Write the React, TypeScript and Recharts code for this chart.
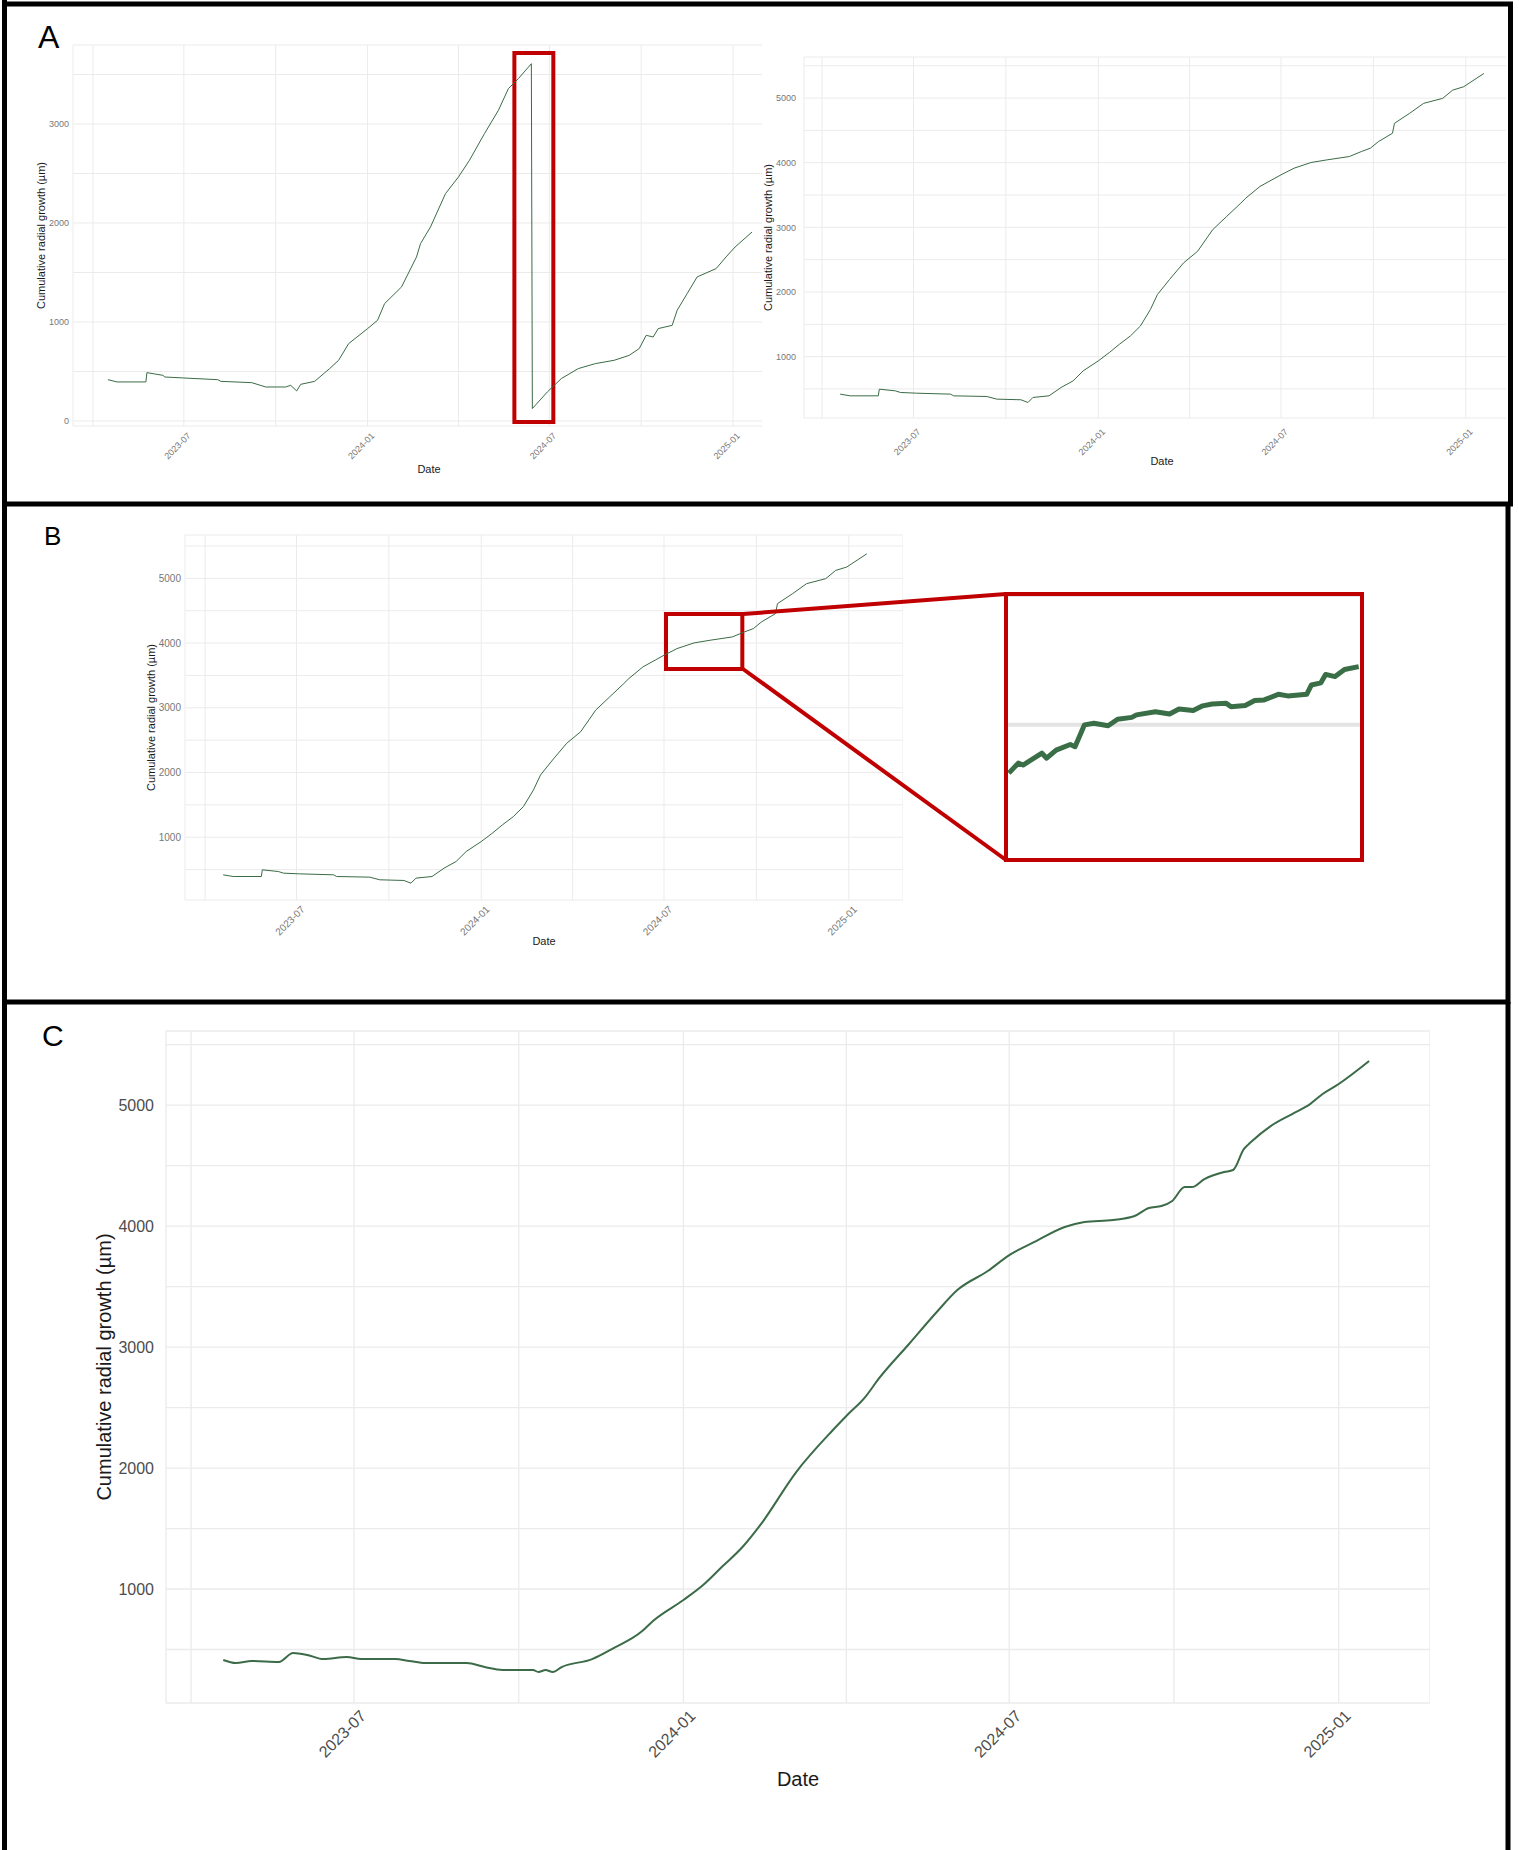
import React from 'react';
import { LineChart, Line, XAxis, YAxis, CartesianGrid, Label, ReferenceArea } from 'recharts';

const FONT = '"Liberation Sans", Arial, Helvetica, sans-serif';
const GREEN = '#3b6b47';
const RED = '#c00000';
const GRID = '#ebebeb';
const DAY = 86400000;

// Panel A, left: raw series with the sensor reset
const aLeftDates = ['2023-04-16', '2023-04-25', '2023-05-24', '2023-05-25', '2023-06-10', '2023-06-12', '2023-07-01', '2023-08-04', '2023-08-07', '2023-09-07', '2023-09-21', '2023-10-11', '2023-10-16', '2023-10-22', '2023-10-26', '2023-11-09', '2023-11-24', '2023-12-03', '2023-12-13', '2024-01-01', '2024-01-11', '2024-01-18', '2024-02-04', '2024-02-19', '2024-02-23', '2024-03-04', '2024-03-19', '2024-04-01', '2024-04-12', '2024-04-27', '2024-05-11', '2024-05-21', '2024-05-31', '2024-06-13', '2024-06-14', '2024-06-29', '2024-07-13', '2024-07-30', '2024-08-16', '2024-09-04', '2024-09-19', '2024-09-29', '2024-10-06', '2024-10-13', '2024-10-18', '2024-11-01', '2024-11-06', '2024-11-16', '2024-11-26', '2024-12-15', '2024-12-25', '2025-01-03', '2025-01-20'];
const aLeftValues = [417, 394, 394, 488, 461, 444, 434, 417, 400, 387, 343, 343, 360, 303, 370, 400, 529, 613, 781, 933, 1017, 1185, 1354, 1657, 1791, 1960, 2296, 2465, 2633, 2902, 3138, 3357, 3458, 3609, 125, 293, 428, 529, 579, 613, 663, 731, 865, 848, 933, 966, 1118, 1286, 1455, 1539, 1657, 1757, 1909];

// Panel A right and panel B: corrected raw series
const rawDates = ['2023-04-19', '2023-04-29', '2023-05-27', '2023-05-28', '2023-06-13', '2023-06-18', '2023-07-04', '2023-08-07', '2023-08-10', '2023-09-12', '2023-09-22', '2023-10-16', '2023-10-23', '2023-10-28', '2023-11-13', '2023-11-25', '2023-12-07', '2023-12-17', '2024-01-01', '2024-01-12', '2024-01-22', '2024-02-02', '2024-02-12', '2024-02-22', '2024-02-29', '2024-03-12', '2024-03-26', '2024-04-09', '2024-04-24', '2024-05-08', '2024-05-22', '2024-05-27', '2024-06-10', '2024-07-01', '2024-07-14', '2024-07-31', '2024-08-16', '2024-09-07', '2024-09-19', '2024-09-28', '2024-10-06', '2024-10-20', '2024-10-22', '2024-11-06', '2024-11-20', '2024-12-09', '2024-12-19', '2024-12-30', '2025-01-19'];
const rawValues = [419, 393, 393, 496, 470, 445, 434, 419, 393, 383, 342, 332, 290, 368, 393, 522, 625, 779, 933, 1062, 1190, 1319, 1473, 1730, 1961, 2193, 2450, 2630, 2964, 3170, 3375, 3452, 3632, 3812, 3915, 4003, 4044, 4095, 4172, 4224, 4326, 4455, 4609, 4763, 4918, 4995, 5123, 5175, 5380];

// Panel B inset: zoomed stretch Jul-Sep 2024
const insetDates = ['2024-07-04', '2024-07-06', '2024-07-07', '2024-07-11', '2024-07-12', '2024-07-14', '2024-07-17', '2024-07-18', '2024-07-20', '2024-07-22', '2024-07-25', '2024-07-27', '2024-07-30', '2024-07-31', '2024-08-04', '2024-08-07', '2024-08-09', '2024-08-12', '2024-08-14', '2024-08-16', '2024-08-19', '2024-08-20', '2024-08-23', '2024-08-25', '2024-08-27', '2024-08-30', '2024-09-01', '2024-09-05', '2024-09-06', '2024-09-08', '2024-09-09', '2024-09-11', '2024-09-13', '2024-09-16'];
const insetValues = [3845, 3877, 3871, 3909, 3893, 3919, 3937, 3930, 4000, 4005, 3997, 4018, 4024, 4032, 4042, 4035, 4051, 4046, 4061, 4067, 4069, 4058, 4062, 4078, 4080, 4098, 4093, 4098, 4128, 4135, 4162, 4155, 4178, 4187];

// Panel C: smoothed series
const cDates = ['2023-04-19', '2023-04-26', '2023-05-05', '2023-05-20', '2023-05-28', '2023-06-05', '2023-06-14', '2023-06-27', '2023-07-05', '2023-07-24', '2023-08-01', '2023-08-10', '2023-09-02', '2023-09-12', '2023-09-22', '2023-10-09', '2023-10-12', '2023-10-16', '2023-10-20', '2023-10-25', '2023-11-11', '2023-11-22', '2023-12-09', '2023-12-15', '2024-01-01', '2024-01-12', '2024-01-23', '2024-02-03', '2024-02-13', '2024-03-04', '2024-03-24', '2024-04-01', '2024-04-12', '2024-04-19', '2024-05-06', '2024-05-21', '2024-06-02', '2024-06-19', '2024-07-01', '2024-07-16', '2024-08-01', '2024-08-12', '2024-08-28', '2024-09-09', '2024-09-17', '2024-09-24', '2024-09-30', '2024-10-07', '2024-10-11', '2024-10-18', '2024-10-29', '2024-11-03', '2024-11-09', '2024-11-13', '2024-11-24', '2024-12-06', '2024-12-16', '2024-12-23', '2025-01-01', '2025-01-18'];
const cValues = [413, 388, 405, 397, 471, 455, 421, 438, 421, 421, 405, 388, 388, 355, 331, 331, 314, 331, 314, 355, 421, 504, 653, 736, 909, 1033, 1190, 1347, 1530, 1967, 2306, 2430, 2595, 2736, 3025, 3281, 3471, 3628, 3760, 3876, 3992, 4033, 4050, 4083, 4149, 4165, 4207, 4322, 4322, 4388, 4446, 4463, 4636, 4694, 4826, 4926, 5008, 5091, 5174, 5364];

const quarterTicks = ['2023-04-01', '2023-07-01', '2023-10-01', '2024-01-01', '2024-04-01', '2024-07-01', '2024-10-01', '2025-01-01'];
const yTicksA = [0, 500, 1000, 1500, 2000, 2500, 3000, 3500];
const yTicksFull = [500, 1000, 1500, 2000, 2500, 3000, 3500, 4000, 4500, 5000, 5500];

const t = (s: string) => Date.parse(s);
const rows = (dates: string[], values: number[]) => dates.map((d, i) => ({ date: t(d), value: values[i] }));

const aLeftData = rows(aLeftDates, aLeftValues);
const rawData = rows(rawDates, rawValues);
const insetData = rows(insetDates, insetValues);
const cData = rows(cDates, cValues);
const dateTicks = quarterTicks.map(t);

// only Jan / Jul get a label, the other quarters are minor grid lines
const fmtDate = (v: number) => {
  const d = new Date(v);
  const m = d.getUTCMonth() + 1;
  if (m !== 1 && m !== 7) return '';
  return `${d.getUTCFullYear()}-${String(m).padStart(2, '0')}`;
};

const XTick = (props: any) => {
  const { x, y, payload, fontSize, color, dx, dy } = props;
  const label = fmtDate(payload.value);
  if (!label) return <g />;
  const ax = x + dx;
  const ay = y + dy;
  return (
    <text x={ax} y={ay} dy="0.71em" textAnchor="end" transform={`rotate(-45 ${ax} ${ay})`}
      fontSize={fontSize} fill={color} fontFamily={FONT}>{label}</text>
  );
};

const YTick = (props: any) => {
  const { x, y, payload, fontSize, color, gap } = props;
  if (payload.value % 1000 !== 0) return <g />;
  return (
    <text x={x - gap} y={y} dy="0.355em" textAnchor="end" fontSize={fontSize} fill={color} fontFamily={FONT}>
      {payload.value}
    </text>
  );
};

interface GrowthChartProps {
  left: number; top: number; width: number; height: number; clipWidth?: number;
  marginTop: number; yAxisWidth: number; xAxisHeight: number;
  data: { date: number; value: number }[];
  xDomain: [number, number]; yDomain: [number, number]; yTicks: number[];
  tickFont: number; tickColor: string; titleFont: number;
  xTickDx: number; xTickDy: number; yTickGap: number;
  yTitleOffset: number; dateOffset: number;
  lineWidth: number; gridWidth: number; curve?: 'linear' | 'monotone';
  children?: React.ReactNode;
}

const GrowthChart: React.FC<GrowthChartProps> = (p) => (
  <div style={{ position: 'absolute', left: p.left, top: p.top, width: p.clipWidth ?? p.width, height: p.height, overflow: 'hidden', fontFamily: FONT }}>
    <LineChart width={p.width} height={p.height} data={p.data} margin={{ top: p.marginTop, right: 0, bottom: 0, left: 0 }}>
      <CartesianGrid stroke={GRID} strokeWidth={p.gridWidth} />
      <XAxis dataKey="date" type="number" domain={p.xDomain} allowDataOverflow ticks={dateTicks} interval={0}
        height={p.xAxisHeight} axisLine={false} tickLine={false} tickSize={0} tickMargin={0}
        tick={(tp: any) => <XTick {...tp} fontSize={p.tickFont} color={p.tickColor} dx={p.xTickDx} dy={p.xTickDy} />}>
        <Label value="Date" position="insideBottom" offset={p.dateOffset} fontSize={p.titleFont} fill="#1a1a1a" fontFamily={FONT} />
      </XAxis>
      <YAxis type="number" domain={p.yDomain} allowDataOverflow ticks={p.yTicks} interval={0} width={p.yAxisWidth}
        axisLine={false} tickLine={false} tickSize={0} tickMargin={0}
        tick={(tp: any) => <YTick {...tp} fontSize={p.tickFont} color={p.tickColor} gap={p.yTickGap} />}>
        <Label value="Cumulative radial growth (µm)" angle={-90} position="insideLeft" offset={p.yTitleOffset}
          style={{ textAnchor: 'middle' }} fontSize={p.titleFont} fill="#1a1a1a" fontFamily={FONT} />
      </YAxis>
      <Line dataKey="value" type={p.curve ?? 'linear'} stroke={GREEN} strokeWidth={p.lineWidth} dot={false} isAnimationActive={false} />
      {p.children}
    </LineChart>
  </div>
);

const Inset = () => (
  <div style={{ position: 'absolute', left: 1006, top: 595, width: 356, height: 265 }}>
    <LineChart width={356} height={265} data={insetData} margin={{ top: 0, right: 0, bottom: 0, left: 0 }}>
      <CartesianGrid stroke="#e4e4e4" strokeWidth={4} vertical={false} />
      <XAxis dataKey="date" type="number" hide allowDataOverflow
        domain={[t('2024-07-04') - 0.6 * DAY, t('2024-09-16') + 0.7 * DAY]} />
      <YAxis type="number" hide allowDataOverflow domain={[3566, 4417]} ticks={[4000]} />
      <Line dataKey="value" type="linear" stroke="#3a6e46" strokeWidth={5} strokeLinejoin="round" dot={false} isAnimationActive={false} />
    </LineChart>
  </div>
);

const Overlay = () => (
  <svg width={1519} height={1850} style={{ position: 'absolute', left: 0, top: 0, pointerEvents: 'none' }}>
    <g stroke="#000" strokeWidth={5}>
      <line x1={4.5} y1={0} x2={4.5} y2={1850} />
      <line x1={2} y1={4} x2={1513} y2={4} />
      <line x1={1510.5} y1={2} x2={1510.5} y2={506} />
      <line x1={2} y1={504} x2={1513} y2={504} />
      <line x1={1508} y1={504} x2={1508} y2={1004} />
      <line x1={2} y1={1002} x2={1510} y2={1002} />
      <line x1={1508} y1={1002} x2={1508} y2={1850} />
    </g>
    <g fontFamily={FONT} fill="#000">
      <text x={38} y={48} fontSize={32}>A</text>
      <text x={44} y={545} fontSize={26}>B</text>
      <text x={42} y={1046} fontSize={30}>C</text>
    </g>
    <g stroke={RED} strokeWidth={4} fill="none">
      <line x1={743} y1={614} x2={1006} y2={594} />
      <line x1={743} y1={669} x2={1006} y2={860} />
      <rect x={1006} y={594} width={356} height={266} />
    </g>
  </svg>
);

export default function App() {
  return (
    <div style={{ position: 'absolute', left: 0, top: 0, width: 1519, height: 1850, background: '#fff', fontFamily: FONT }}>
      <GrowthChart left={30} top={40} width={755} height={440} clipWidth={732}
        marginTop={5} yAxisWidth={43} xAxisHeight={54}
        data={aLeftData} xDomain={[t('2023-03-12'), t('2025-02-22')]} yDomain={[-51, 3798]} yTicks={yTicksA}
        tickFont={9} tickColor="#777" titleFont={11} xTickDx={3} xTickDy={6} yTickGap={4}
        yTitleOffset={11} dateOffset={7} lineWidth={1} gridWidth={1}>
        <ReferenceArea x1={t('2024-05-27')} x2={t('2024-07-05')} y1={-10} y2={3717}
          fill="none" fillOpacity={0} stroke={RED} strokeWidth={4} ifOverflow="visible" />
      </GrowthChart>

      <GrowthChart left={756} top={40} width={764} height={440} clipWidth={750}
        marginTop={17} yAxisWidth={48} xAxisHeight={62}
        data={rawData} xDomain={[t('2023-03-14'), t('2025-02-24')]} yDomain={[50, 5635]} yTicks={yTicksFull}
        tickFont={9} tickColor="#777" titleFont={11} xTickDx={3} xTickDy={10} yTickGap={8}
        yTitleOffset={12} dateOffset={15} lineWidth={1} gridWidth={1} />

      <GrowthChart left={140} top={520} width={763} height={440}
        marginTop={15} yAxisWidth={45} xAxisHeight={60}
        data={rawData} xDomain={[t('2023-03-12'), t('2025-02-24')]} yDomain={[30, 5670]} yTicks={yTicksFull}
        tickFont={10} tickColor="#777" titleFont={11} xTickDx={4} xTickDy={5} yTickGap={4}
        yTitleOffset={11} dateOffset={15} lineWidth={1} gridWidth={1}>
        <ReferenceArea x1={t('2024-07-03')} x2={t('2024-09-17')} y1={3598} y2={4449}
          fill="none" fillOpacity={0} stroke={RED} strokeWidth={4} ifOverflow="visible" />
      </GrowthChart>

      <Inset />

      <GrowthChart left={80} top={1020} width={1350} height={800}
        marginTop={11} yAxisWidth={86} xAxisHeight={117}
        data={cData} xDomain={[t('2023-03-18'), t('2025-02-21')]} yDomain={[58, 5612]} yTicks={yTicksFull}
        tickFont={16} tickColor="#4d4d4d" titleFont={20} xTickDx={5} xTickDy={6} yTickGap={12}
        yTitleOffset={24} dateOffset={34} lineWidth={2} gridWidth={1.3} curve="monotone" />

      <Overlay />
    </div>
  );
}
